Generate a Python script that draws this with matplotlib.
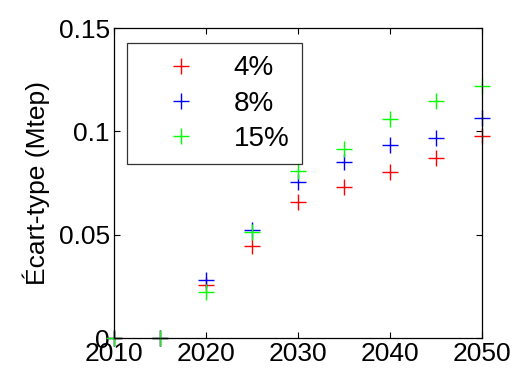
import matplotlib
matplotlib.use("Agg")
import matplotlib.pyplot as plt

plt.rcParams['font.family'] = ['Liberation Sans', 'DejaVu Sans']

# data
years = [2010, 2015, 2020, 2025, 2030, 2035, 2040, 2045, 2050]
std_4 = [0.0, 0.0, 0.0256, 0.0447, 0.0660, 0.0732, 0.0802, 0.0869, 0.0979]
std_8 = [0.0, 0.0, 0.0280, 0.0522, 0.0753, 0.0853, 0.0934, 0.0966, 0.1066]
std_15 = [0.0, 0.0, 0.0224, 0.0511, 0.0810, 0.0914, 0.1060, 0.1148, 0.1220]
labels = ['4%', '8%', '15%']
colors = ['#ff0000', '#0000ff', '#00ff00']

fig = plt.figure(figsize=(5.12, 3.69), dpi=100)
ax = fig.add_axes([0.2227, 0.084, 0.7187, 0.840])

for vals, lab, col in zip([std_4, std_8, std_15], labels, colors):
    ax.plot(years, vals, linestyle='none', marker='+', markersize=12,
            markeredgewidth=1.0, color=col, label=lab, clip_on=False, zorder=2)

ax.set_xlim(2010, 2050)
ax.set_ylim(0, 0.15)
ax.set_xticks([2010, 2020, 2030, 2040, 2050])
ax.set_yticks([0, 0.05, 0.1, 0.15])
ax.set_yticklabels(['0', '0.05', '0.1', '0.15'])
ax.tick_params(direction='in', top=True, right=True, labelsize=19, length=4,
               width=0.8, pad=3)
for s in ax.spines.values():
    s.set_linewidth(0.9)
    s.set_zorder(3)
ax.set_ylabel('Écart-type (Mtep)', fontsize=19, labelpad=6)

leg = ax.legend(loc='upper left', bbox_to_anchor=(0.035, 0.952), fontsize=20,
                frameon=True, fancybox=False, edgecolor='black',
                handlelength=3.0, handletextpad=0.4, labelspacing=0.33,
                borderpad=0.45, borderaxespad=0)
leg.get_frame().set_linewidth(0.9)

fig.savefig('out.png', dpi=100)
